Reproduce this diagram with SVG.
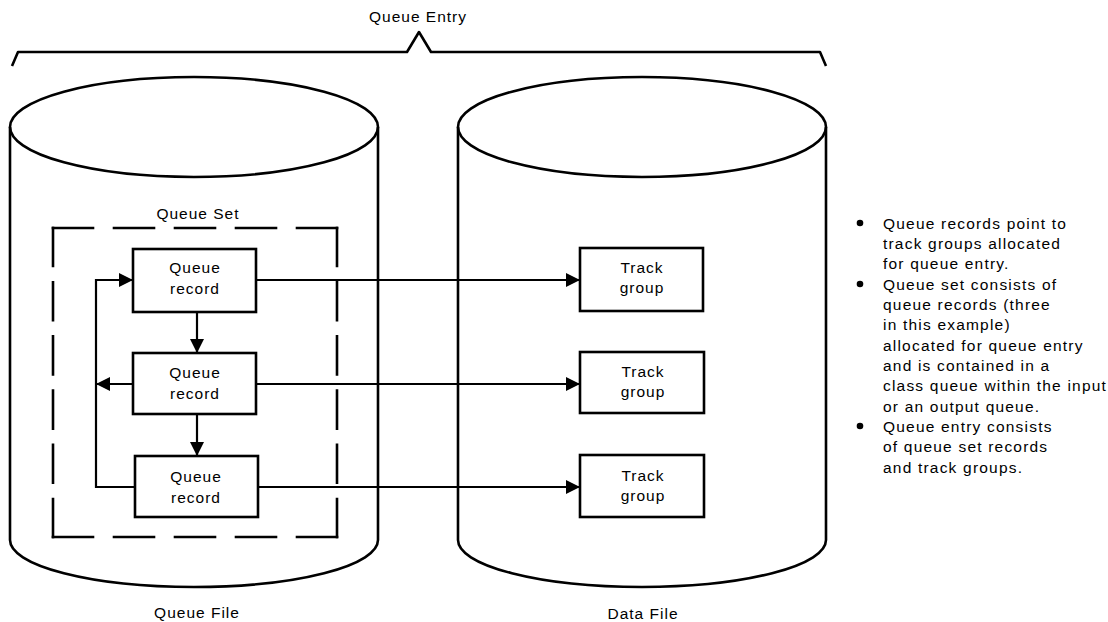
<svg xmlns="http://www.w3.org/2000/svg" width="1108" height="622" viewBox="0 0 1108 622">
  <style>
    text { font-family: "Liberation Sans", Arial, sans-serif; fill: #000; }
    .lbl { font-size: 15.5px; letter-spacing: 1px; text-anchor: middle; }
    .note { font-size: 15.5px; letter-spacing: 1.2px; }
    .outline { fill: none; stroke: #000; stroke-width: 2.6; stroke-linejoin: round; }
    .box { fill: #fff; stroke: #000; stroke-width: 2.6; }
    .dash { fill: none; stroke: #000; stroke-width: 2.6; stroke-linecap: square; }
    .conn { fill: none; stroke: #000; stroke-width: 2.2; }
  </style>
  <defs>
    <marker id="arrow" viewBox="0 0 14 14" refX="14" refY="7" markerWidth="14" markerHeight="14" markerUnits="userSpaceOnUse" orient="auto">
      <path d="M0,0 L14,7 L0,14 z" fill="#000"/>
    </marker>
  </defs>

  <!-- brace spanning both files -->
  <g id="queue-entry">
    <path class="outline" d="M12,66 L18,52 L407,52 L419,32 L431,52 L820,52 L826,66"/>
    <text class="lbl" x="418" y="22">Queue Entry</text>
  </g>

  <!-- queue file cylinder -->
  <g id="queue-file">
    <ellipse class="outline" cx="194" cy="127" rx="184" ry="50"/>
    <path class="outline" d="M10,127 V540 A184,47 0 0 0 378,540 V127"/>
    <text class="lbl" x="197" y="618">Queue File</text>
  </g>

  <!-- data file cylinder -->
  <g id="data-file">
    <ellipse class="outline" cx="642" cy="127" rx="184" ry="50"/>
    <path class="outline" d="M458,127 V540 A184,47 0 0 0 826,540 V127"/>
    <text class="lbl" x="643" y="619">Data File</text>
  </g>

  <!-- queue set boundary -->
  <g id="queue-set">
    <path class="dash" d="M53,228 H337" stroke-dasharray="40 21"/>
    <path class="dash" d="M337,228 V537" stroke-dasharray="38 16.2"/>
    <path class="dash" d="M337,537 H53" stroke-dasharray="40 21"/>
    <path class="dash" d="M53,537 V228" stroke-dasharray="38 16.2"/>
    <text class="lbl" x="198" y="219">Queue Set</text>
  </g>

  <!-- connectors -->
  <g id="connectors">
    <path class="conn" d="M256,280 H580" marker-end="url(#arrow)"/>
    <path class="conn" d="M256,384 H580" marker-end="url(#arrow)"/>
    <path class="conn" d="M258,487 H580" marker-end="url(#arrow)"/>
    <path class="conn" d="M197,312 V353" marker-end="url(#arrow)"/>
    <path class="conn" d="M197,414 V456" marker-end="url(#arrow)"/>
    <path class="conn" d="M135,487 H96 V280 H133" marker-end="url(#arrow)"/>
    <path class="conn" d="M133,384 H96" marker-end="url(#arrow)"/>
  </g>

  <!-- queue records -->
  <g id="queue-record-1">
    <rect class="box" x="133" y="249" width="123" height="63"/>
    <text class="lbl" x="195" y="273">Queue</text>
    <text class="lbl" x="195" y="294">record</text>
  </g>
  <g id="queue-record-2">
    <rect class="box" x="133" y="353" width="123" height="61"/>
    <text class="lbl" x="195" y="378">Queue</text>
    <text class="lbl" x="195" y="399">record</text>
  </g>
  <g id="queue-record-3">
    <rect class="box" x="135" y="456" width="123" height="61"/>
    <text class="lbl" x="196" y="482">Queue</text>
    <text class="lbl" x="196" y="503">record</text>
  </g>

  <!-- track groups -->
  <g id="track-group-1">
    <rect class="box" x="580" y="248" width="123" height="63"/>
    <text class="lbl" x="642" y="273">Track</text>
    <text class="lbl" x="642" y="293">group</text>
  </g>
  <g id="track-group-2">
    <rect class="box" x="580" y="352" width="124" height="61"/>
    <text class="lbl" x="643" y="377">Track</text>
    <text class="lbl" x="643" y="397">group</text>
  </g>
  <g id="track-group-3">
    <rect class="box" x="580" y="455" width="124" height="62"/>
    <text class="lbl" x="643" y="481">Track</text>
    <text class="lbl" x="643" y="501">group</text>
  </g>

  <!-- explanatory notes -->
  <g id="notes">
    <circle cx="860" cy="223" r="3.3"/>
    <circle cx="860" cy="284" r="3.3"/>
    <circle cx="860" cy="426" r="3.3"/>
    <text class="note" x="883" y="228.5">Queue records point to</text>
    <text class="note" x="883" y="248.8">track groups allocated</text>
    <text class="note" x="883" y="269.2">for queue entry.</text>
    <text class="note" x="883" y="289.5">Queue set consists of</text>
    <text class="note" x="883" y="309.8">queue records (three</text>
    <text class="note" x="883" y="330.2">in this example)</text>
    <text class="note" x="883" y="350.5">allocated for queue entry</text>
    <text class="note" x="883" y="370.8">and is contained in a</text>
    <text class="note" x="883" y="391.1">class queue within the input</text>
    <text class="note" x="883" y="411.5">or an output queue.</text>
    <text class="note" x="883" y="431.8">Queue entry consists</text>
    <text class="note" x="883" y="452.1">of queue set records</text>
    <text class="note" x="883" y="472.5">and track groups.</text>
  </g>
</svg>
